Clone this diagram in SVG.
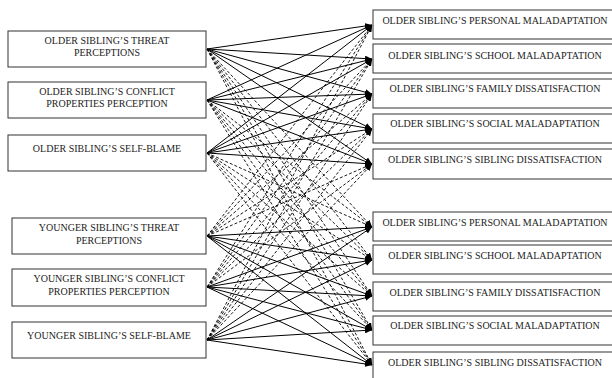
<svg xmlns="http://www.w3.org/2000/svg" width="612" height="378" viewBox="0 0 612 378">
<defs>
<style>
.box{fill:#fff;stroke:#333;stroke-width:1}
.t{font-family:"Liberation Serif","Times New Roman",serif;font-size:10px;fill:#222;text-anchor:middle}
.s{stroke:#000;stroke-width:1;fill:none;marker-end:url(#ah)}
.d{stroke:#000;stroke-width:0.9;fill:none;stroke-dasharray:3,2;marker-end:url(#ah)}
</style>
<marker id="ah" markerWidth="7" markerHeight="6" refX="7" refY="3" orient="auto" markerUnits="userSpaceOnUse">
<path d="M0,0 L7,3 L0,6 Z" fill="#000"/>
</marker>
</defs>
<rect width="612" height="378" fill="#fff"/>
<g id="connectors">
<line class="s" x1="207" y1="49" x2="372" y2="25"/>
<line class="s" x1="207" y1="49" x2="372" y2="59"/>
<line class="s" x1="207" y1="49" x2="372" y2="94"/>
<line class="s" x1="207" y1="49" x2="372" y2="129"/>
<line class="s" x1="207" y1="49" x2="372" y2="164"/>
<line class="d" x1="207" y1="49" x2="372" y2="227"/>
<line class="d" x1="207" y1="49" x2="372" y2="260"/>
<line class="d" x1="207" y1="49" x2="372" y2="296"/>
<line class="d" x1="207" y1="49" x2="372" y2="330"/>
<line class="d" x1="207" y1="49" x2="372" y2="365"/>
<line class="s" x1="207" y1="100" x2="372" y2="25"/>
<line class="s" x1="207" y1="100" x2="372" y2="59"/>
<line class="s" x1="207" y1="100" x2="372" y2="94"/>
<line class="s" x1="207" y1="100" x2="372" y2="129"/>
<line class="s" x1="207" y1="100" x2="372" y2="164"/>
<line class="d" x1="207" y1="100" x2="372" y2="227"/>
<line class="d" x1="207" y1="100" x2="372" y2="260"/>
<line class="d" x1="207" y1="100" x2="372" y2="296"/>
<line class="d" x1="207" y1="100" x2="372" y2="330"/>
<line class="d" x1="207" y1="100" x2="372" y2="365"/>
<line class="s" x1="207" y1="153" x2="372" y2="25"/>
<line class="s" x1="207" y1="153" x2="372" y2="59"/>
<line class="s" x1="207" y1="153" x2="372" y2="94"/>
<line class="s" x1="207" y1="153" x2="372" y2="129"/>
<line class="s" x1="207" y1="153" x2="372" y2="164"/>
<line class="d" x1="207" y1="153" x2="372" y2="227"/>
<line class="d" x1="207" y1="153" x2="372" y2="260"/>
<line class="d" x1="207" y1="153" x2="372" y2="296"/>
<line class="d" x1="207" y1="153" x2="372" y2="330"/>
<line class="d" x1="207" y1="153" x2="372" y2="365"/>
<line class="d" x1="207" y1="236" x2="372" y2="25"/>
<line class="d" x1="207" y1="236" x2="372" y2="59"/>
<line class="d" x1="207" y1="236" x2="372" y2="94"/>
<line class="d" x1="207" y1="236" x2="372" y2="129"/>
<line class="d" x1="207" y1="236" x2="372" y2="164"/>
<line class="s" x1="207" y1="236" x2="372" y2="227"/>
<line class="s" x1="207" y1="236" x2="372" y2="260"/>
<line class="s" x1="207" y1="236" x2="372" y2="296"/>
<line class="s" x1="207" y1="236" x2="372" y2="330"/>
<line class="s" x1="207" y1="236" x2="372" y2="365"/>
<line class="d" x1="207" y1="287" x2="372" y2="25"/>
<line class="d" x1="207" y1="287" x2="372" y2="59"/>
<line class="d" x1="207" y1="287" x2="372" y2="94"/>
<line class="d" x1="207" y1="287" x2="372" y2="129"/>
<line class="d" x1="207" y1="287" x2="372" y2="164"/>
<line class="s" x1="207" y1="287" x2="372" y2="227"/>
<line class="s" x1="207" y1="287" x2="372" y2="260"/>
<line class="s" x1="207" y1="287" x2="372" y2="296"/>
<line class="s" x1="207" y1="287" x2="372" y2="330"/>
<line class="s" x1="207" y1="287" x2="372" y2="365"/>
<line class="d" x1="207" y1="340" x2="372" y2="25"/>
<line class="d" x1="207" y1="340" x2="372" y2="59"/>
<line class="d" x1="207" y1="340" x2="372" y2="94"/>
<line class="d" x1="207" y1="340" x2="372" y2="129"/>
<line class="d" x1="207" y1="340" x2="372" y2="164"/>
<line class="s" x1="207" y1="340" x2="372" y2="227"/>
<line class="s" x1="207" y1="340" x2="372" y2="260"/>
<line class="s" x1="207" y1="340" x2="372" y2="296"/>
<line class="s" x1="207" y1="340" x2="372" y2="330"/>
<line class="s" x1="207" y1="340" x2="372" y2="365"/>
</g>
<g id="os-threat"><rect class="box" x="8" y="31" width="198" height="36"/><text class="t" x="107" y="44">OLDER SIBLING’S THREAT</text><text class="t" x="107" y="56">PERCEPTIONS</text></g>
<g id="os-conflict"><rect class="box" x="8" y="82" width="198" height="36"/><text class="t" x="107" y="95">OLDER SIBLING’S CONFLICT</text><text class="t" x="107" y="107">PROPERTIES PERCEPTION</text></g>
<g id="os-selfblame"><rect class="box" x="8" y="135" width="198" height="36"/><text class="t" x="107" y="152">OLDER SIBLING’S SELF-BLAME</text></g>
<g id="ys-threat"><rect class="box" x="12" y="218" width="194" height="36"/><text class="t" x="109" y="231">YOUNGER SIBLING’S THREAT</text><text class="t" x="109" y="244">PERCEPTIONS</text></g>
<g id="ys-conflict"><rect class="box" x="12" y="269" width="194" height="37"/><text class="t" x="109" y="282">YOUNGER SIBLING’S CONFLICT</text><text class="t" x="109" y="295">PROPERTIES PERCEPTION</text></g>
<g id="ys-selfblame"><rect class="box" x="12" y="322" width="194" height="36"/><text class="t" x="109" y="339">YOUNGER SIBLING’S SELF-BLAME</text></g>
<g id="out1"><rect class="box" x="373" y="10" width="244" height="29"/><text class="t" x="495" y="24">OLDER SIBLING’S PERSONAL MALADAPTATION</text></g>
<g id="out2"><rect class="box" x="373" y="44" width="244" height="29"/><text class="t" x="495" y="59">OLDER SIBLING’S SCHOOL MALADAPTATION</text></g>
<g id="out3"><rect class="box" x="373" y="79" width="244" height="29"/><text class="t" x="495" y="92">OLDER SIBLING’S FAMILY DISSATISFACTION</text></g>
<g id="out4"><rect class="box" x="373" y="114" width="244" height="29"/><text class="t" x="495" y="127">OLDER SIBLING’S SOCIAL MALADAPTATION</text></g>
<g id="out5"><rect class="box" x="373" y="149" width="244" height="30"/><text class="t" x="495" y="163">OLDER SIBLING’S SIBLING DISSATISFACTION</text></g>
<g id="out6"><rect class="box" x="373" y="212" width="244" height="29"/><text class="t" x="495" y="226">OLDER SIBLING’S PERSONAL MALADAPTATION</text></g>
<g id="out7"><rect class="box" x="373" y="245" width="244" height="29"/><text class="t" x="495" y="259">OLDER SIBLING’S SCHOOL MALADAPTATION</text></g>
<g id="out8"><rect class="box" x="373" y="282" width="244" height="29"/><text class="t" x="495" y="296">OLDER SIBLING’S FAMILY DISSATISFACTION</text></g>
<g id="out9"><rect class="box" x="373" y="316" width="244" height="29"/><text class="t" x="495" y="329">OLDER SIBLING’S SOCIAL MALADAPTATION</text></g>
<g id="out10"><rect class="box" x="373" y="352" width="244" height="30"/><text class="t" x="495" y="366">OLDER SIBLING’S SIBLING DISSATISFACTION</text></g>
</svg>
